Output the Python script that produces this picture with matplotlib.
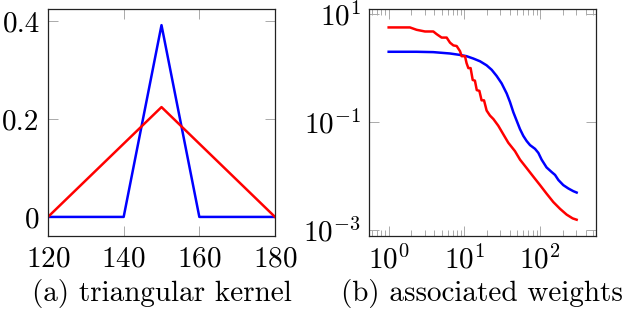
import numpy as np
import matplotlib.pyplot as plt
from matplotlib.ticker import FixedLocator, LogLocator, NullFormatter

plt.rcParams['font.family'] = 'serif'
plt.rcParams['font.serif'] = ['cmr10', 'DejaVu Serif']
plt.rcParams['mathtext.fontset'] = 'cm'
plt.rcParams['axes.formatter.use_mathtext'] = True

# (a) triangular kernels
narrow_x = [120, 140, 150, 160, 180]
narrow_k = [0, 0, 0.392, 0, 0]
wide_x = [120, 150, 180]
wide_k = [0, 0.2245, 0]

# (b) associated weights
red_x = [1, 1.91, 2.34, 3.02, 3.89, 4.31, 5.01, 5.84, 6.47, 7.16, 7.92, 8.77,
         9.22, 10.2, 10.7, 11.3, 12.1, 12.9, 13.8, 14.6, 15.8, 16.9, 18.2,
         19.7, 21.8, 24.2, 28.1, 32.7, 38.1, 46.7, 54.4, 66.6, 81.6, 100,
         122, 150, 184, 225, 270, 305]
red_w = [5.60, 5.60, 5.06, 4.71, 4.71, 4.20, 3.63, 3.63, 2.92, 2.60, 2.53,
         2.03, 1.64, 1.64, 1.22, 0.986, 0.986, 0.594, 0.577, 0.385, 0.373,
         0.249, 0.249, 0.161, 0.130, 0.112, 0.0841, 0.0585, 0.0407, 0.0284,
         0.0198, 0.0138, 0.00957, 0.00667, 0.00464, 0.00323, 0.00242,
         0.00189, 0.00161, 0.00152]
blue_x = [1, 2.34, 3.89, 6.47, 8.77, 10.7, 13.2, 16.1, 19.7, 23.0, 26.7, 31.1,
          36.3, 40.1, 44.4, 49.2, 54.4, 60.2, 66.6, 73.8, 85.9, 95.1, 105,
          122, 143, 158, 175, 203, 237, 276, 305]
blue_w = [1.98, 1.98, 1.95, 1.84, 1.73, 1.64, 1.48, 1.32, 1.11, 0.916, 0.706,
          0.514, 0.333, 0.232, 0.150, 0.104, 0.0728, 0.0545, 0.0438, 0.0368,
          0.0314, 0.0264, 0.0198, 0.0142, 0.0116, 0.0103, 0.00828, 0.00667,
          0.00577, 0.00514, 0.00485]

fs = 21
fig = plt.figure(figsize=(6.28, 3.12), dpi=100)
ax1 = fig.add_axes([48/628, 1-236/312, 227/628, 227/312])
ax2 = fig.add_axes([369/628, 1-236/312, 227/628, 227/312])

for ax in (ax1, ax2):
    for s in ax.spines.values():
        s.set_linewidth(0.9)
        s.set_color('#222222')
    ax.tick_params(which='both', direction='in', top=True, right=True,
                   color='#aaaaaa', width=0.7, labelsize=fs)
    ax.tick_params(which='major', length=7)
    ax.tick_params(which='minor', length=4.5)

ax1.plot(narrow_x, narrow_k, color='blue', lw=1.8)
ax1.plot(wide_x, wide_k, color='red', lw=1.8)
ax1.set_xlim(120, 180)
ax1.set_ylim(-0.039, 0.425)
ax1.set_xticks([120, 140, 160, 180])
ax1.set_yticks([0, 0.2, 0.4])
ax1.set_yticklabels(['0', '0.2', '0.4'])
ax1.tick_params(axis='x', pad=7)
ax1.tick_params(axis='y', pad=6)

ax2.plot(blue_x, blue_w, color='blue', lw=1.8)
ax2.plot(red_x, red_w, color='red', lw=1.8)
ax2.set_xscale('log')
ax2.set_yscale('log')
ax2.set_xlim(10**-0.26, 10**2.74)
ax2.set_ylim(10**-3.12, 10**1.09)
ax2.set_xticks([1, 10, 100])
ax2.set_xticklabels(['$10^{0}$', '$10^{1}$', '$10^{2}$'])
ax2.xaxis.set_minor_locator(LogLocator(base=10, subs=np.arange(2, 10)))
ax2.xaxis.set_minor_formatter(NullFormatter())
ax2.set_yticks([1e1, 1e-1, 1e-3])
ax2.set_yticklabels(['$10^{1}$', '$10^{-1}$', '$10^{-3}$'])
ax2.yaxis.set_minor_locator(FixedLocator([]))
ax2.tick_params(axis='x', pad=7)
ax2.tick_params(axis='y', pad=6)

fig.text(161.5/628, 1-293/312, '(a) triangular kernel', ha='center',
         va='center', fontsize=fs)
fig.text(482/628, 1-293/312, '(b) associated weights', ha='center',
         va='center', fontsize=fs)

fig.savefig('out.png', dpi=100)
